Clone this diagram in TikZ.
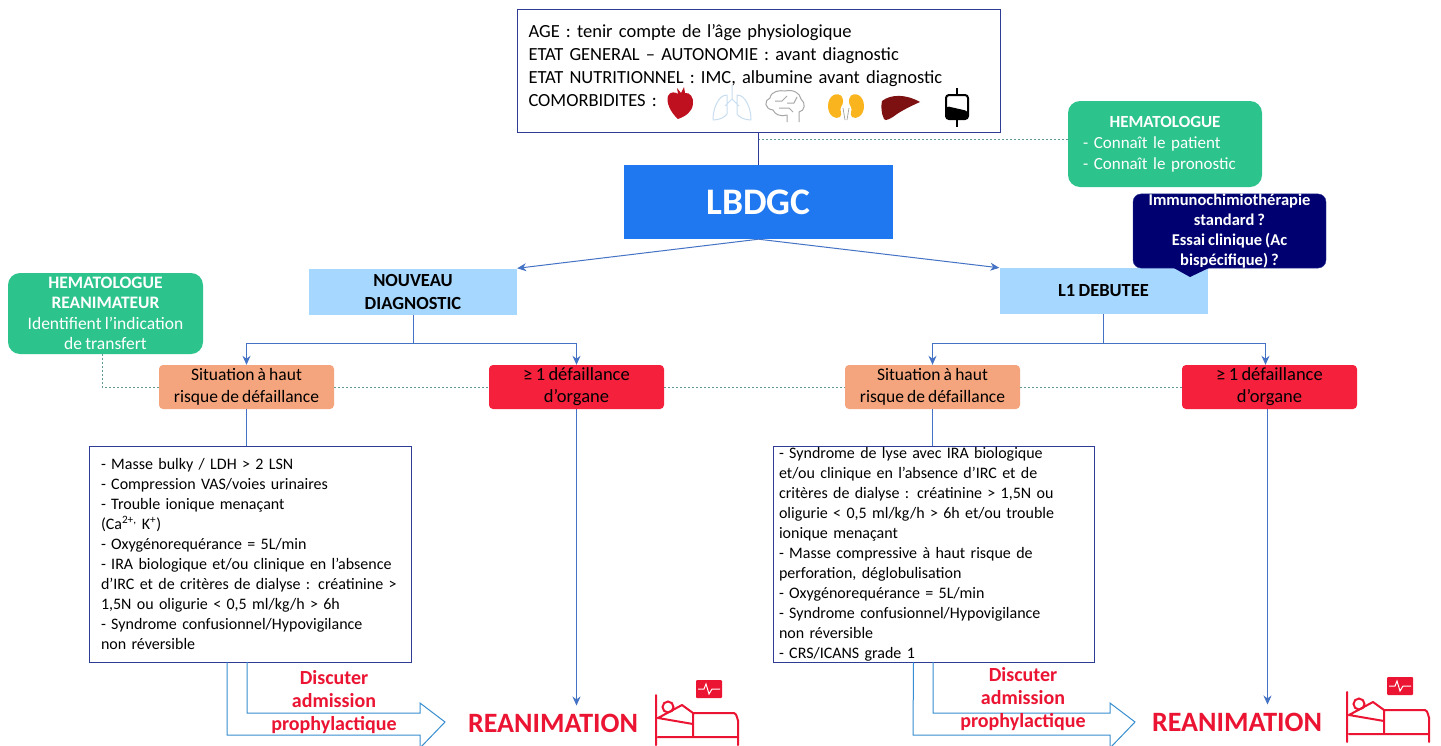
\documentclass[tikz,border=0pt]{standalone}
\usepackage{fontspec}
\setmainfont{Carlito}[WordSpace=0.8]
\usetikzlibrary{arrows.meta, positioning, calc}
\definecolor{linkblue}{RGB}{68, 114, 196}
\definecolor{mainblue}{RGB}{31, 120, 240}
\definecolor{paleblue}{RGB}{166, 216, 255}
\definecolor{teamgreen}{RGB}{44, 196, 140}
\definecolor{darknavy}{RGB}{0, 0, 112}
\definecolor{riskorange}{RGB}{245, 165, 125}
\definecolor{organred}{RGB}{245, 32, 60}
\definecolor{alertred}{RGB}{235, 20, 50}
\definecolor{framenavy}{RGB}{47, 60, 150}
\definecolor{liverred}{RGB}{125, 16, 16}
\definecolor{heartred}{RGB}{190, 16, 30}
\definecolor{lungblue}{RGB}{200, 222, 240}
\definecolor{kidneyamber}{RGB}{250, 180, 30}
\tikzset{
    infobox/.style={rectangle, draw=framenavy, thick, fill=white, align=left, inner sep=0pt},
    branchbox/.style={rectangle, fill=paleblue, minimum width=208pt, minimum height=46pt,
                      align=center, font=\fontsize{18.5}{23}\selectfont\bfseries},
    riskbox/.style={rectangle, rounded corners=4pt, fill=riskorange, minimum width=175pt, minimum height=44pt,
                    align=center, inner sep=0pt, font=\fontsize{17.5}{22}\selectfont},
    organbox/.style={rectangle, rounded corners=4pt, fill=organred, minimum width=175pt, minimum height=44pt,
                     align=center, inner sep=0pt, font=\fontsize{18.5}{22}\selectfont},
    teambox/.style={rectangle, rounded corners=12pt, fill=teamgreen, text=white, inner sep=0pt},
    arrow/.style={-{Stealth[length=9pt, width=8pt]}, linkblue, line width=1pt},
    plainlink/.style={linkblue, line width=1pt},
    dashlink/.style={dashed, dash pattern=on 2pt off 2pt, teal!55!gray!80, line width=0.7pt},
    openarrow/.style={draw=linkblue!80!cyan, line width=1pt},
    alerttext/.style={text=alertred, font=\fontsize{20}{23}\selectfont\bfseries, align=center, inner sep=0pt},
    reatext/.style={text=alertred, font=\fontsize{28}{30}\selectfont\bfseries, inner sep=0pt},
    bedicon/.pic={
        \draw[alertred, line width=2pt, line join=round, line cap=round]
            (0,15) -- (0,65) (2,57) -- (82,57) (82,65) -- (82,40)
            to[out=-90, in=0] (78,33) -- (37,33) -- (37,57)
            (2,38) -- (26,25) -- (37,33) (2,38) -- (37,44);
        \draw[alertred, line width=2pt] (12,27) circle (5.5);
        \fill[alertred, rounded corners=1pt] (40,0) rectangle (66,18);
        \draw[white, line width=1pt] (42,9) -- (48,9) -- (50,4) -- (53,14) -- (56,9) -- (64,9);
    },
    hearticon/.pic={
        \fill[heartred] (-2,15) .. controls (-10,8) and (-14,-2) .. (-12,-8)
            .. controls (-10,-13) and (-4,-12) .. (-2,-10) -- (-3,-16) -- (1,-11) -- (4,-17) -- (5,-11)
            .. controls (10,-12) and (14,-6) .. (13,0) .. controls (12,8) and (6,12) .. (-2,15) -- cycle;
    },
    lungsicon/.pic={
        \draw[lungblue, line width=1pt, line join=round]
            (0,-18) -- (0,-4) (0,-4) -- (-7,3) (0,-4) -- (7,3)
            (-5,-8) .. controls (-14,-8) and (-19,6) .. (-19,17) .. controls (-12,17) and (-7,14) .. (-5,11) -- cycle
            (5,-8) .. controls (14,-8) and (19,6) .. (19,17) .. controls (12,17) and (7,14) .. (5,11) -- cycle;
    },
    brainicon/.pic={
        \draw[gray!70, line width=1pt, line join=round]
            (2,16) -- (2,9) .. controls (-6,11) and (-10,8) .. (-12,4)
            .. controls (-21,3) and (-21,-6) .. (-15,-8) .. controls (-14,-15) and (-5,-16) .. (0,-15)
            .. controls (8,-17) and (15,-13) .. (16,-7) .. controls (21,-3) and (20,5) .. (14,6)
            -- (14,16)
            (-10,-5) -- (-3,-5) -- (2,-10) (2,-3) -- (9,-3) -- (12,-9) (-6,2) -- (4,2) -- (8,6);
    },
    kidneyicon/.pic={
        \fill[kidneyamber] (-4,-10) .. controls (-8,-16) and (-18,-12) .. (-18,-1)
            .. controls (-18,9) and (-10,13) .. (-6,10) .. controls (-3,7) and (-7,3) .. (-5,0)
            .. controls (-3,-3) and (-2,-6) .. (-4,-10) -- cycle;
        \fill[kidneyamber] (4,-10) .. controls (8,-16) and (18,-12) .. (18,-1)
            .. controls (18,9) and (10,13) .. (6,10) .. controls (3,7) and (7,3) .. (5,0)
            .. controls (3,-3) and (2,-6) .. (4,-10) -- cycle;
        \draw[gray!70, line width=0.8pt] (-3,1) -- (-1,13) (3,1) -- (1,13);
    },
    livericon/.pic={
        \fill[liverred] (-19,-7) .. controls (-10,-14) and (5,-14) .. (19,-6)
            .. controls (10,-2) and (2,2) .. (-4,6) .. controls (-9,10) and (-16,14) .. (-17,11)
            .. controls (-20,5) and (-20,-2) .. (-19,-7) -- cycle;
    },
    bagicon/.pic={
        \draw[black, line width=2pt, rounded corners=3pt] (-11,-12) rectangle (11,12);
        \fill[black, rounded corners=3pt] (-11,-1) -- (11,4) -- (11,12) -- (-11,12) -- cycle;
        \draw[black, line width=2pt] (0,-19) -- (0,-12) (0,12) -- (0,20);
    },
}
\begin{document}
\begin{tikzpicture}[x=1pt, y=-1pt]
    \useasboundingbox (0,0) rectangle (1441,745);
    \fill[white] (0,0) rectangle (1441,745);

    \node[infobox, minimum width=483pt, minimum height=123pt, text width=460pt,
          font=\fontsize{18.5}{23}\selectfont] (patient) at (758.5,70.5)
        {AGE : tenir compte de l’âge physiologique\\
         ETAT GENERAL – AUTONOMIE : avant diagnostic\\
         ETAT NUTRITIONNEL : IMC, albumine avant diagnostic\\
         COMORBIDITES :\\[-13pt]\mbox{}};
    \pic at (680,104) {hearticon};
    \pic at (732,103) {lungsicon};
    \pic at (785,106) {brainicon};
    \pic at (846,107) {kidneyicon};
    \pic at (901,108) {livericon};
    \pic at (957,107) {bagicon};

    \node[rectangle, fill=mainblue, text=white, minimum width=269pt, minimum height=74pt,
          font=\fontsize{37.5}{40}\selectfont\bfseries] (lbdgc) at (758.5,202) {LBDGC};

    \node[teambox, minimum width=194pt, minimum height=86pt, text width=164pt, align=left,
          font=\fontsize{17}{21}\selectfont] (hemato) at (1165,144)
        {\makebox[\linewidth]{\bfseries HEMATOLOGUE}\\
         - Connaît le patient\\
         - Connaît le pronostic};

    \node[branchbox] (nouveau) at (413,291.5) {NOUVEAU\\DIAGNOSTIC};
    \node[branchbox] (debutee) at (1103.5,291) {L1 DEBUTEE};

    % bulle du traitement
    \node[rectangle, rounded corners=8pt, draw=framenavy, fill=darknavy, text=white,
          minimum width=193pt, minimum height=74pt, inner sep=0pt, align=center,
          font=\fontsize{16.5}{20}\selectfont\bfseries] (traitement) at (1229.5,231)
        {Immunochimiothérapie\\standard ?\\Essai clinique (Ac\\bispécifique) ?};
    \fill[darknavy] (1172,267) -- (1190,277) -- (1211,267) -- cycle;

    \node[teambox, minimum width=195pt, minimum height=81pt, align=center,
          font=\fontsize{17.5}{20.5}\selectfont] (transfert) at (105.5,313.5)
        {\textbf{HEMATOLOGUE}\\\textbf{REANIMATEUR}\\Identifient l’indication\\de transfert};

    \node[riskbox] (risqueg) at (246.5,387) {Situation à haut\\risque de défaillance};
    \node[organbox] (organeg) at (576.5,387) {≥ 1 défaillance\\d’organe};
    \node[riskbox] (risqued) at (932.5,387) {Situation à haut\\risque de défaillance};
    \node[organbox] (organed) at (1269.5,387) {≥ 1 défaillance\\d’organe};

    \node[infobox, minimum width=322pt, minimum height=216pt, text width=298pt,
          font=\fontsize{16}{19.9}\selectfont] (masse) at (250,554)
        {- Masse bulky / LDH > 2 LSN\\
         - Compression VAS/voies urinaires\\
         - Trouble ionique menaçant\\
         (Ca\textsuperscript{2+,} K\textsuperscript{+})\\
         - Oxygénorequérance = 5L/min\\
         - IRA biologique et/ou clinique en l’absence\\
         d’IRC et de critères de dialyse : créatinine >\\
         1,5N ou oligurie < 0,5 ml/kg/h > 6h\\
         - Syndrome confusionnel/Hypovigilance\\
         non réversible};
    \node[infobox, minimum width=321pt, minimum height=216pt, text width=309pt,
          font=\fontsize{16}{20}\selectfont] (lyse) at (933.5,554)
        {- Syndrome de lyse avec IRA biologique\\
         et/ou clinique en l’absence d’IRC et de\\
         critères de dialyse : créatinine > 1,5N ou\\
         oligurie < 0,5 ml/kg/h > 6h et/ou trouble\\
         ionique menaçant\\
         - Masse compressive à haut risque de\\
         perforation, déglobulisation\\
         - Oxygénorequérance = 5L/min\\
         - Syndrome confusionnel/Hypovigilance\\
         non réversible\\
         - CRS/ICANS grade 1};

    \node[reatext] (reag) at (553,723) {REANIMATION};
    \node[reatext] (read) at (1237,722) {REANIMATION};
    \pic at (656,680) {bedicon};
    \pic at (1347,677) {bedicon};

    \draw[framenavy, line width=1pt] (patient.south) -- (lbdgc.north);
    \draw[dashlink] ([yshift=5pt]hemato.west) -- ([yshift=5pt]hemato.west -| lbdgc.north);
    \draw[arrow] (lbdgc.south) -- (nouveau.north east);
    \draw[arrow] (lbdgc.south) -- (debutee.north west);

    \draw[arrow] (nouveau.south) -- ++(0,29) -| (risqueg.north);
    \draw[arrow] (nouveau.south) -- ++(0,29) -| (organeg.north);
    \draw[arrow] (debutee.south) -- ++(0,29) -| (risqued.north);
    \draw[arrow] (debutee.south) -- ++(0,29) -| ([xshift=-4pt]organed.north);

    \draw[dashlink] (transfert.south -| 102,0) |- (risqueg.west);
    \draw[dashlink] (risqueg.east) -- (organeg.west);
    \draw[dashlink] (organeg.east) -- (risqued.west);
    \draw[dashlink] (risqued.east) -- (organed.west);

    \draw[plainlink] (risqueg.south) -- (risqueg.south |- masse.north);
    \draw[plainlink] (risqued.south) -- (risqued.south |- lyse.north);
    \draw[arrow, shorten >=8pt] (organeg.south) -- (organeg.south |- reag.north);
    \draw[arrow, shorten >=8pt] ([xshift=-2pt]organed.south) -- ([xshift=-2pt]organed.south |- read.north);

    \draw[openarrow] ([xshift=-23pt]masse.south) -- (227,735) -- (420,735) -- (420,748)
        -- (445,722) -- (420,703) -- (420,713) -- (247,713) -- (247,662);
    \draw[openarrow] ([xshift=-20pt]lyse.south) -- (913,735) -- (1110,735) -- (1110,748)
        -- (1135,722) -- (1110,703) -- (1110,713) -- (933,713) -- (933,662);

    \node[alerttext] (discuterg) at (334,702) {Discuter\\admission\\prophylactique};
    \node[alerttext] (discuterd) at (1023,699) {Discuter\\admission\\prophylactique};
\end{tikzpicture}
\end{document}
